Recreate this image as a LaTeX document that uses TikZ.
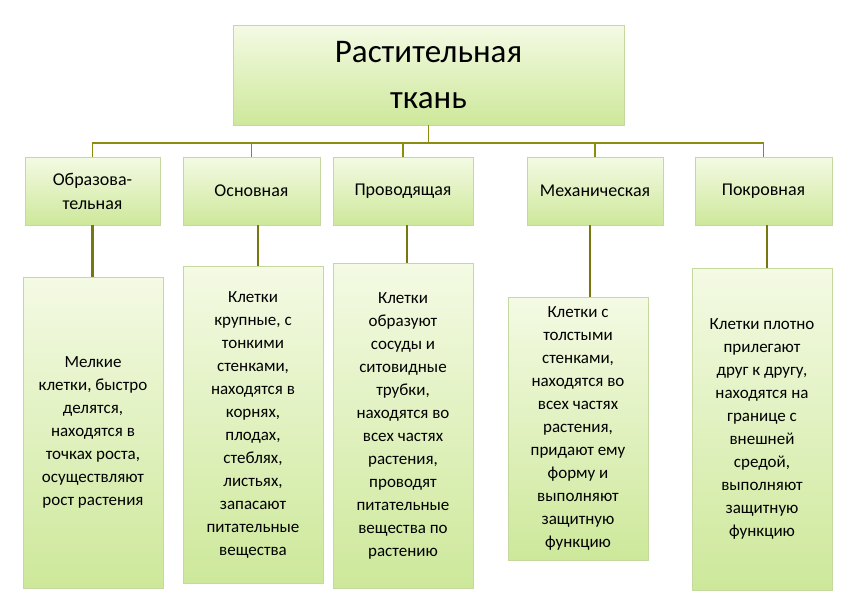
\documentclass[tikz,border=0pt]{standalone}
\usepackage{fontspec}
\setmainfont{Carlito}
\usetikzlibrary{positioning}
\definecolor{boxtop}{HTML}{F4FAE4}
\definecolor{boxbot}{HTML}{CDE89A}
\definecolor{boxline}{HTML}{C4D8A0}
\definecolor{olive}{HTML}{8C8C10}
\begin{document}
\begin{tikzpicture}
    [ x = 1pt, y = -1pt
    , tissue/.style =
      { draw=boxline, top color=boxtop, bottom color=boxbot,
        align=center, inner sep=2pt, font=\fontsize{17}{23}\selectfont }
    , kind/.style =
      { tissue, minimum height=68pt, font=\fontsize{18}{24}\selectfont }
    , link/.style =
      { draw=olive, line width=1.2pt }
    , stem/.style =
      { draw=olive!85!black, line width=2.2pt }
    ]
    \useasboundingbox (0,0) rectangle (857,608);
    % title
    \node [tissue, minimum width=391pt, minimum height=100pt,
           font=\fontsize{33}{46}\selectfont] (root) at (428.5,75)
      {Растительная\\ткань};
    % kinds of tissue
    \node [kind, minimum width=135pt] (k1) at (92.5,191) {Образова-\\тельная};
    \node [kind, minimum width=137pt] (k2) at (251.5,191) {Основная};
    \node [kind, minimum width=140pt] (k3) at (403,191) {Проводящая};
    \node [kind, minimum width=136pt] (k4) at (595,191) {Механическая};
    \node [kind, minimum width=137pt] (k5) at (763.5,191) {Покровная};
    % descriptions
    \node [tissue, minimum width=140pt, minimum height=311pt] (d1) at (93,432.5)
      {Мелкие\\клетки, быстро\\делятся,\\находятся в\\точках роста,\\осуществляют\\рост растения};
    \node [tissue, minimum width=140pt, minimum height=317pt] (d2) at (253,424.5)
      {Клетки\\крупные, с\\тонкими\\стенками,\\находятся в\\корнях,\\плодах,\\стеблях,\\листьях,\\запасают\\питательные\\вещества};
    \node [tissue, minimum width=140pt, minimum height=325pt] (d3) at (403,425.5)
      {Клетки\\образуют\\сосуды и\\ситовидные\\трубки,\\находятся во\\всех частях\\растения,\\проводят\\питательные\\вещества по\\растению};
    \node [tissue, minimum width=140pt, minimum height=263pt] (d4) at (578,428.5)
      {Клетки с\\толстыми\\стенками,\\находятся во\\всех частях\\растения,\\придают ему\\форму и\\выполняют\\защитную\\функцию};
    \node [tissue, minimum width=140pt, minimum height=322pt] (d5) at (762,429)
      {Клетки плотно\\прилегают\\друг к другу,\\находятся на\\границе с\\внешней\\средой,\\выполняют\\защитную\\функцию};
    % connectors
    \coordinate (bus) at (428.5,143);
    \draw [link] (root.south) -- (bus);
    \draw [link] (k1.north) |- (bus) -| (k5.north);
    \foreach \k in {k2,k3,k4}
      \draw [link] (\k.north) -- (\k.north |- bus);
    \draw [stem] (k1.south) -- (k1.south |- d1.north);
    \draw [stem] (258,225) -- (258,266);
    \draw [stem] (407,225) -- (407,263);
    \draw [stem] (590,225) -- (590,297);
    \draw [stem] (767,225) -- (767,268);
\end{tikzpicture}
\end{document}
